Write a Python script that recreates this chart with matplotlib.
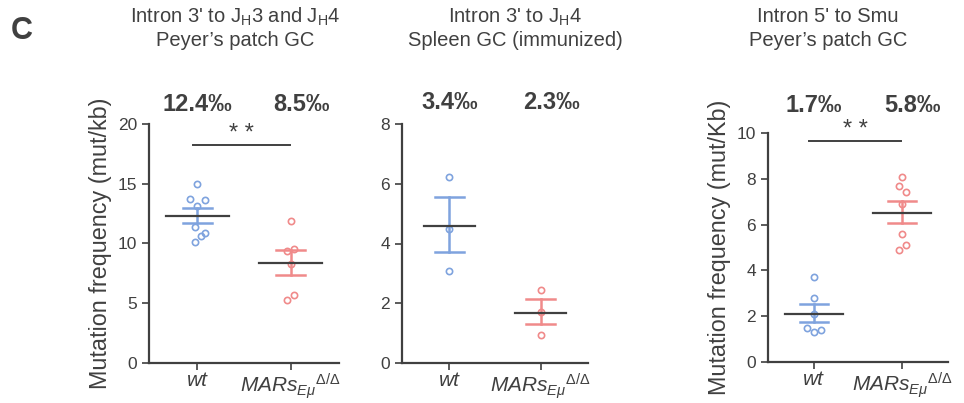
import matplotlib

matplotlib.use("Agg")
import matplotlib.pyplot as plt
import numpy as np

plt.rcParams["font.family"] = ["Liberation Sans", "DejaVu Sans"]
plt.rcParams["mathtext.fontset"] = "custom"
plt.rcParams["mathtext.rm"] = "Liberation Sans"
plt.rcParams["mathtext.it"] = "Liberation Sans:italic"
plt.rcParams["mathtext.bf"] = "Liberation Sans:bold"

GREY = "#404040"
BLUE = "#7fa3de"
RED = "#f08a8a"

groups = ["wt", r"$\mathit{MARs}_{\mathit{E\mu}}{}^{\Delta/\Delta}$"]

# panel A: intron 3' to JH3/JH4, Peyer's patch GC
a_wt = [14.96, 13.7, 13.65, 13.1, 11.4, 10.85, 10.66, 10.1]
a_mars = [11.9, 9.37, 9.5, 8.3, 5.68, 5.31]
a_mean = [12.28, 8.39]
a_sem_hi = [12.95, 9.43]
a_sem_lo = [11.72, 7.38]
a_pct = ["12.4‰", "8.5‰"]

# panel B: intron 3' to JH4, spleen GC
b_wt = [6.21, 4.5, 3.09]
b_mars = [2.44, 1.71, 0.95]
b_mean = [4.6, 1.68]
b_sem_hi = [5.54, 2.14]
b_sem_lo = [3.71, 1.30]
b_pct = ["3.4‰", "2.3‰"]

# panel C: intron 5' to Smu, Peyer's patch GC
c_wt = [3.71, 2.78, 2.11, 1.5, 1.30, 1.38]
c_mars = [8.09, 7.70, 7.41, 6.91, 5.60, 5.11, 4.89]
c_mean = [2.08, 6.52]
c_sem_hi = [2.53, 7.05]
c_sem_lo = [1.76, 6.07]
c_pct = ["1.7‰", "5.8‰"]

# horizontal scatter of the dots (x units)
a_jit = ([0, -0.08, 0.08, 0, -0.03, 0.08, 0.04, -0.03], [0, -0.04, 0.04, 0, 0.04, -0.04])
b_jit = ([0, 0, 0], [0, 0, 0])
c_jit = ([0, 0, 0, -0.08, 0, 0.08], [0, -0.04, 0.04, 0, 0, 0.04, -0.04])

W, H = 964, 403


def px_axes(fig, left, right, top, bottom):
    return fig.add_axes([left / W, 1 - bottom / H, (right - left) / W, (bottom - top) / H])


def panel(ax, wt, mars, jit, mean, hi, lo, pct, ymax, step, pct_y, mean_hw, sig=None, ylabel=None):
    for i, (vals, col) in enumerate([(wt, BLUE), (mars, RED)]):
        xs = i + np.array(jit[i])
        ax.plot(xs, vals, "o", ms=4.5, mfc="none", mec=col, mew=1.2, clip_on=False, zorder=3)
        ax.plot([i, i], [lo[i], hi[i]], color=col, lw=1.8, zorder=2)
        for y in (lo[i], hi[i]):
            ax.plot([i - 0.16, i + 0.16], [y, y], color=col, lw=1.8, zorder=2)
        ax.plot([i - mean_hw, i + mean_hw], [mean[i], mean[i]], color=GREY, lw=1.6, zorder=4)
    trans = ax.get_xaxis_transform()
    ax.text(0.0, pct_y, pct[0], transform=trans, ha="center", va="center",
            fontsize=17, fontweight="bold", color=GREY)
    ax.text(1.12, pct_y, pct[1], transform=trans, ha="center", va="center",
            fontsize=17, fontweight="bold", color=GREY)
    if sig is not None:
        ax.plot([-0.05, 0.99], [sig, sig], color=GREY, lw=1.4, clip_on=False)
        ax.text(0.47, sig, "* *", ha="center", va="bottom", fontsize=17, color=GREY)
    ax.set_xlim(-0.52, 1.52)
    ax.set_ylim(0, ymax)
    ax.set_yticks(np.arange(0, ymax + 0.01, step))
    ax.set_xticks([0, 1])
    ax.set_xticklabels(groups, fontsize=15)
    ax.get_xticklabels()[0].set_style("italic")
    for s in ("top", "right"):
        ax.spines[s].set_visible(False)
    for s in ("left", "bottom"):
        ax.spines[s].set_color(GREY)
        ax.spines[s].set_linewidth(1.6)
    ax.tick_params(colors=GREY, labelsize=12.5, width=1.2, length=5)
    ax.tick_params(axis="x", labelsize=15, pad=1)
    if ylabel:
        ax.set_ylabel(ylabel, fontsize=16.8, color=GREY, labelpad=4)


fig = plt.figure(figsize=(W / 100, H / 100), dpi=100)

ax1 = px_axes(fig, 149, 339, 124, 363)
panel(ax1, a_wt, a_mars, a_jit, a_mean, a_sem_hi, a_sem_lo, a_pct, 20, 5, 1.08, 0.34,
      sig=18.27, ylabel="Mutation frequency (mut/kb)")

ax2 = px_axes(fig, 402, 588, 124, 363)
panel(ax2, b_wt, b_mars, b_jit, b_mean, b_sem_hi, b_sem_lo, b_pct, 8, 2, 1.09, 0.28)

ax3 = px_axes(fig, 768, 948, 133, 362)
panel(ax3, c_wt, c_mars, c_jit, c_mean, c_sem_hi, c_sem_lo, c_pct, 10, 2, 1.12, 0.33,
      sig=9.66, ylabel="Mutation frequency (mut/Kb)")

titles = [
    (235, r"Intron 3' to J$_\mathrm{H}$3 and J$_\mathrm{H}$4", "Peyer’s patch GC"),
    (515, r"Intron 3' to J$_\mathrm{H}$4", "Spleen GC (immunized)"),
    (828, "Intron 5' to Smu", "Peyer’s patch GC"),
]
for x, l1, l2 in titles:
    fig.text(x / W, 1 - 17 / H, l1, ha="center", va="center", fontsize=14.5, color=GREY)
    fig.text(x / W, 1 - 40 / H, l2, ha="center", va="center", fontsize=14.5, color=GREY)

fig.text(22 / W, 1 - 31 / H, "C", ha="center", va="center", fontsize=22,
         fontweight="bold", color=GREY)

fig.savefig("out.png", dpi=100)
